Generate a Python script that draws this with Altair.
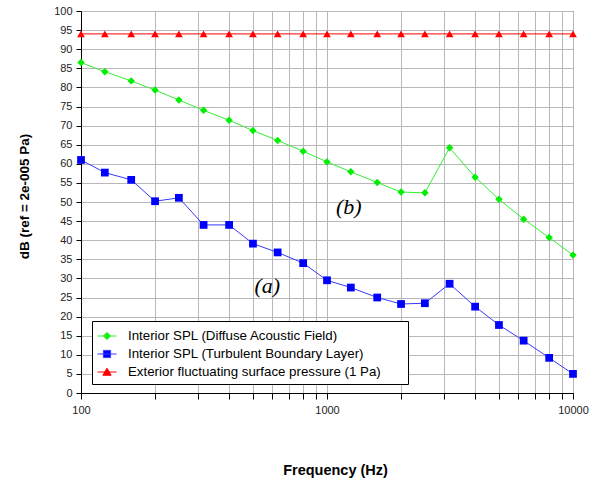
import altair as alt
import pandas as pd

# Third-octave band centre frequencies (Hz)
freqs = [100, 125, 160, 200, 250, 315, 400, 500, 630, 800, 1000,
         1250, 1600, 2000, 2500, 3150, 4000, 5000, 6300, 8000, 10000]

# Sound pressure levels, dB re 2e-5 Pa
diffuse = [86.5, 84.1, 81.7, 79.3, 76.7, 74.0, 71.4, 68.7, 66.1, 63.3, 60.5,
           57.9, 55.1, 52.6, 52.4, 64.2, 56.5, 50.7, 45.5, 40.7, 36.1]
turbulent = [61.0, 57.7, 55.8, 50.2, 51.1, 44.0, 44.0, 39.1, 36.8, 34.0, 29.5,
             27.6, 25.0, 23.3, 23.5, 28.6, 22.6, 17.8, 13.7, 9.2, 5.0]
exterior = [94.0] * len(freqs)

series_names = [
    "Interior SPL (Diffuse Acoustic Field)",
    "Interior SPL (Turbulent Boundary Layer)",
    "Exterior fluctuating surface pressure (1 Pa)",
]
series_values = [diffuse, turbulent, exterior]
line_colors = ["#33ee33", "#3838ff", "#ff0000"]
marker_colors = ["#00ee00", "#0000ff", "#ff0000"]
marker_shapes = ["diamond", "square", "triangle-up"]
marker_sizes = [55, 60, 60]

# legend glyphs: a short line segment with the series marker on it
legend_glyphs = [
    "M-1,0H1M0,-0.38L0.38,0L0,0.38L-0.38,0Z",
    "M-1,0H1M-0.38,-0.38H0.38V0.38H-0.38Z",
    "M-1,0H1M0,-0.4L0.44,0.34H-0.44Z",
]

# annotation labels
note_text = ["(a)", "(b)"]
note_freq = [572, 1227]
note_db = [28.0, 48.7]

grid_freqs = [100, 200, 300, 400, 500, 600, 700, 800, 900,
              1000, 2000, 3000, 4000, 5000, 6000, 7000, 8000, 9000, 10000]
y_ticks = list(range(0, 101, 5))

rows = []
for name, vals in zip(series_names, series_values):
    for f, v in zip(freqs, vals):
        rows.append({"series": name, "freq": f, "db": v})
df = pd.DataFrame(rows)
notes = pd.DataFrame({"text": note_text, "freq": note_freq, "db": note_db})

FONT = "Liberation Sans"

x_enc = alt.X(
    "freq:Q",
    scale=alt.Scale(type="log", domain=[100, 10000], nice=False),
    axis=alt.Axis(
        values=grid_freqs, tickCount=50,
        labelExpr="(datum.value == 100 || datum.value == 1000 || datum.value == 10000) ? format(datum.value, 'd') : ''",
        title="Frequency (Hz)",
        titleFont=FONT, titleFontSize=14.5, titleFontWeight="bold", titleColor="black",
        titleX=254, titleY=77, titleBaseline="middle", titleAlign="center",
        labelFont=FONT, labelFontSize=11, labelColor="#222222",
        labelPadding=5, labelFlush=False, labelOverlap=False,
        tickSize=6, tickColor="black", domainColor="black",
        gridColor="#b8b8b8", gridWidth=1,
    ),
)
y_enc = alt.Y(
    "db:Q",
    scale=alt.Scale(domain=[0, 100], nice=False),
    axis=alt.Axis(
        values=y_ticks, tickCount=50,
        title="dB (ref = 2e-005 Pa)",
        titleFont=FONT, titleFontSize=13.5, titleFontWeight="bold", titleColor="black",
        titleX=-57, titleY=185, titleAngle=-90, titleBaseline="middle", titleAlign="center",
        labelFont=FONT, labelFontSize=11, labelColor="#222222", labelPadding=4,
        labelOverlap=False, labelFlush=False,
        tickSize=5, tickColor="black", domainColor="black",
        gridColor="#b8b8b8", gridWidth=1,
    ),
)

base = alt.Chart(df)

# one line + marker layer per series
series_layers = []
for name, lcol, mcol, shp, sz in zip(series_names, line_colors, marker_colors,
                                     marker_shapes, marker_sizes):
    sub = base.transform_filter(alt.datum.series == name)
    series_layers.append(sub.mark_line(strokeWidth=1, color=lcol).encode(x=x_enc, y=y_enc))
    series_layers.append(
        sub.mark_point(shape=shp, filled=True, color=mcol, size=sz, opacity=1)
        .encode(x=x_enc, y=y_enc)
    )

# legend carrier: scales have explicit domains, so it needs no visible rows.
# Labels get trailing no-break spaces (closed by a zero-width space so they
# survive trimming) to leave room on the right of the legend box.
legend_layer = base.transform_filter("datum.db < -1000").mark_point(filled=True).encode(
    x=x_enc, y=y_enc,
    fill=alt.Fill("series:N", scale=alt.Scale(domain=series_names, range=marker_colors),
                  sort=series_names),
    stroke=alt.Stroke("series:N", scale=alt.Scale(domain=series_names, range=line_colors),
                      sort=series_names),
    shape=alt.Shape(
        "series:N",
        scale=alt.Scale(domain=series_names, range=legend_glyphs),
        sort=series_names,
        legend=alt.Legend(
            orient="none", legendX=11, legendY=310,
            fillColor="white", strokeColor="black", padding=5,
            symbolSize=361, symbolStrokeWidth=1, symbolOpacity=1,
            labelFont=FONT, labelFontSize=13.3, labelColor="black",
            labelExpr="datum.label + '\u00a0\u00a0\u00a0\u00a0\u00a0\u00a0\u200b'",
            labelOffset=11, rowPadding=1, labelLimit=400,
        ),
    ),
)

notes_layer = alt.Chart(notes).mark_text(
    font="Liberation Serif", fontStyle="italic", fontSize=22, color="black",
    align="center", baseline="middle",
).encode(x=x_enc, y=y_enc, text="text:N")

chart = alt.layer(*series_layers, legend_layer, notes_layer).properties(
    width=492, height=382,
    padding={"left": 81, "top": 11, "right": 27, "bottom": 89},
    autosize=alt.AutoSizeParams(type="none"),
    background="white",
).configure_view(stroke="#555555", strokeWidth=1).configure_legend(title=None)

chart.save("out.html", embed_options={"renderer": "svg", "actions": False})
